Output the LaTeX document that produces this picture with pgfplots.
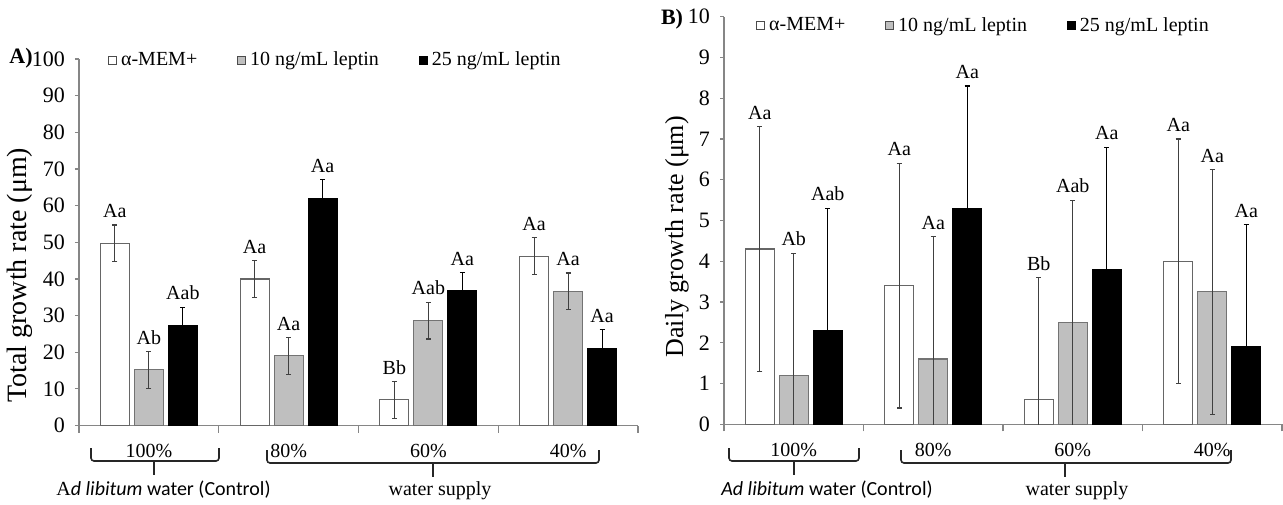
\documentclass[border=0pt]{standalone}
\usepackage{pgfplots}
\pgfplotsset{compat=1.18}
\usepackage{pgfplotstable}
\usepackage{fontspec}
\setmainfont{Liberation Serif}
\newfontfamily\calibri{Carlito}

\pgfplotstableread{
x y e lab
0 49.7 5 Aa
1 40.0 5 Aa
2 7.0 5 Bb
3 46.2 5 Aa
}\Awhite
\pgfplotstableread{
x y e lab
0 15.2 5 Ab
1 19.0 5 Aa
2 28.6 5 Aab
3 36.6 5 Aa
}\Agray
\pgfplotstableread{
x y e lab
0 27.3 5 Aab
1 62.0 5 Aa
2 36.7 5 Aa
3 21.1 5 Aa
}\Ablack
\pgfplotstableread{
x y e lab
0 4.3 3 Aa
1 3.4 3 Aa
2 0.6 3 Bb
3 4.0 3 Aa
}\Bwhite
\pgfplotstableread{
x y e lab
0 1.2 3 Ab
1 1.6 3 Aa
2 2.5 3 Aab
3 3.25 3 Aa
}\Bgray
\pgfplotstableread{
x y e lab
0 2.3 3 Aab
1 5.3 3 Aa
2 3.8 3 Aa
3 1.9 3 Aa
}\Bblack

\definecolor{barGray}{HTML}{BFBFBF}
\definecolor{axGray}{HTML}{868686}

\pgfplotsset{
  mybase/.style={
    scale only axis, ybar=2.5pt, bar width=14.5pt,
    xmin=-0.5, xmax=3.5, ymin=0,
    xtick={0,1,2,3}, xticklabels={100\%,80\%,60\%,40\%},
    minor xtick={-0.5,0.5,1.5,2.5,3.5},
    axis lines*=left,
    axis line style={axGray, line width=0.6pt},
    tick align=outside,
    major tick length=2pt, minor tick length=3.5pt,
    tick style={axGray, line width=0.6pt},
    major x tick style={draw=none},
    /pgf/number format/assume math mode=true,
    yticklabel style={font=\fontsize{11}{12}\selectfont, xshift=-1.5pt},
    xticklabel style={font=\fontsize{10}{12}\selectfont, yshift=-4pt},
    nodes near coords, point meta=explicit symbolic,
    nodes near coords style={font=\fontsize{10}{12}\selectfont, text=black},
    legend style={draw=none, fill=none, font=\fontsize{10}{12}\selectfont,
      legend columns=3, /tikz/every even column/.append style={column sep=18pt}},
    error bars/y dir=both, error bars/y explicit,
    error bars/error bar style={black!75, line width=0.55pt},
    error bars/error mark options={rotate=90, mark size=1.3pt, line width=0.55pt, black!75},
  },
  wbar/.style={fill=white, draw=black!60, line width=0.6pt,
    legend image code/.code={\draw[fill=white,draw=black!70,line width=0.4pt] (0pt,-2pt) rectangle (4pt,2pt);}},
  gbar/.style={fill=barGray, draw=black!55, line width=0.6pt,
    legend image code/.code={\draw[fill=barGray,draw=black!70,line width=0.4pt] (0pt,-2pt) rectangle (4pt,2pt);}},
  kbar/.style={fill=black, draw=black, line width=0.6pt,
    error bars/error bar style={black, line width=0.55pt},
    error bars/error mark options={rotate=90, mark size=1.3pt, line width=0.55pt, black},
    legend image code/.code={\draw[fill=black,draw=black,line width=0.4pt] (0pt,-2pt) rectangle (4pt,2pt);}},
}

\begin{document}
\begin{tikzpicture}
% Panel A
\begin{axis}[mybase,
  at={(39.5pt,39.25pt)}, anchor=south west,
  width=279.5pt, height=183.25pt,
  ymax=100, ytick={0,10,...,100},
  every node near coord/.append style={yshift=9.16pt},
  every axis y label/.style={at={(axis description cs:-0.1055,0.41)}, rotate=90, anchor=center, font=\fontsize{14}{16}\selectfont},
  ylabel={Total growth rate (μm)},
  legend style={at={(0.4606,0.997)}, anchor=center},
]
\addplot[wbar] table[x=x,y=y,y error=e,meta=lab]{\Awhite};
\addlegendentry{α-MEM+}
\addplot[gbar] table[x=x,y=y,y error=e,meta=lab]{\Agray};
\addlegendentry{10 ng/mL leptin}
\addplot[kbar] table[x=x,y=y,y error=e,meta=lab]{\Ablack};
\addlegendentry{25 ng/mL leptin}
\end{axis}

% Panel B
\begin{axis}[mybase,
  at={(362pt,39.85pt)}, anchor=south west,
  width=279pt, height=203.8pt,
  ymax=10, ytick={0,1,...,10},
  every node near coord/.append style={yshift=61.14pt},
  every axis y label/.style={at={(axis description cs:-0.0842,0.46)}, rotate=90, anchor=center, font=\fontsize{13}{15}\selectfont},
  ylabel={Daily growth rate (μm)},
  legend style={at={(0.467,0.978)}, anchor=center},
]
\addplot[wbar] table[x=x,y=y,y error=e,meta=lab]{\Bwhite};
\addlegendentry{α-MEM+}
\addplot[gbar] table[x=x,y=y,y error=e,meta=lab]{\Bgray};
\addlegendentry{10 ng/mL leptin}
\addplot[kbar] table[x=x,y=y,y error=e,meta=lab]{\Bblack};
\addlegendentry{25 ng/mL leptin}
\end{axis}

% panel letters
\node[font=\bfseries\fontsize{11}{12}\selectfont] at (10.5pt,223pt) {A)};
\node[font=\bfseries\fontsize{11}{12}\selectfont] at (336pt,242.5pt) {B)};

% braces
\begin{scope}[black!85, line width=0.8pt, rounded corners=1.5pt]
\draw (45.5pt,28pt) -- (45.5pt,21.5pt) -- (109.5pt,21.5pt) -- (109.5pt,28pt);
\draw (77pt,21.5pt) -- (77pt,14.5pt);
\draw (133.5pt,27pt) -- (133.5pt,20.5pt) -- (299.5pt,20.5pt) -- (299.5pt,27pt);
\draw (216.5pt,20.5pt) -- (216.5pt,13.5pt);
\draw (364.5pt,28pt) -- (364.5pt,21.5pt) -- (429.5pt,21.5pt) -- (429.5pt,28pt);
\draw (397pt,21.5pt) -- (397pt,14.5pt);
\draw (450.5pt,27pt) -- (450.5pt,20.5pt) -- (615.5pt,20.5pt) -- (615.5pt,27pt);
\draw (532.5pt,20.5pt) -- (532.5pt,13.5pt);
\end{scope}

% bottom texts
\node[anchor=base, font=\calibri\fontsize{10}{12}\selectfont] at (81.75pt,4.5pt) {{\rmfamily A}{\itshape d libitum} water (Control)};
\node[anchor=base, font=\fontsize{10}{12}\selectfont] at (220pt,4.5pt) {water supply};
\node[anchor=base, font=\calibri\fontsize{10}{12}\selectfont] at (413.5pt,4.5pt) {{\itshape Ad libitum} water (Control)};
\node[anchor=base, font=\fontsize{10}{12}\selectfont] at (538.5pt,4.5pt) {water supply};

\pgfresetboundingbox
\useasboundingbox (0pt,0pt) rectangle (641.5pt,252pt);
\end{tikzpicture}
\end{document}
